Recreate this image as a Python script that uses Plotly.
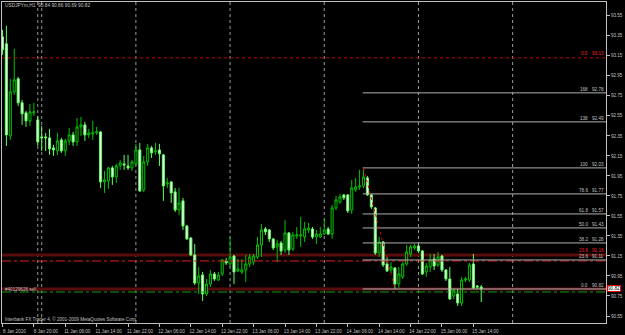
import plotly.graph_objects as go

# ---- data (USDJPYm, H1) ----
opens = [93.34, 93.27, 92.35, 92.79, 92.92, 92.68, 92.58, 92.50, 92.58, 92.51,
         92.34, 92.34, 92.33, 92.23, 92.20, 92.31, 92.20, 92.30, 92.36, 92.29,
         92.44, 92.46, 92.36, 92.37, 92.38, 92.39, 91.89, 91.90, 92.03, 91.94,
         92.05, 92.07, 92.05, 92.03, 92.07, 92.21, 91.81, 92.09, 92.23, 92.19,
         92.21, 92.16, 91.87, 91.89, 91.79, 91.61, 91.70, 91.45, 91.33, 91.16,
         90.88, 90.96, 90.77, 90.87, 90.97, 90.91, 90.97, 91.10, 91.07, 91.15,
         91.00, 90.99, 91.01, 91.07, 91.09, 91.14, 91.26, 91.42, 91.41, 91.32,
         91.24, 91.28, 91.21, 91.38, 91.22, 91.35, 91.35, 91.34, 91.41, 91.42,
         91.34, 91.34, 91.37, 91.42, 91.37, 91.63, 91.69, 91.76, 91.76, 91.61,
         91.81, 91.84, 91.85, 91.93, 91.76, 91.63, 91.18, 91.29, 91.07, 91.01,
         91.03, 90.87, 90.94, 91.07, 91.17, 91.23, 91.25, 91.20, 90.99, 91.04,
         91.12, 91.06, 91.15, 91.01, 90.92, 90.75, 90.77, 90.68, 90.91, 90.91,
         91.07, 90.85, 90.84]
highs = [93.41, 93.45, 92.92, 93.22, 92.94, 92.71, 92.60, 92.67, 92.68, 92.55,
         92.45, 92.38, 92.42, 92.26, 92.38, 92.33, 92.32, 92.43, 92.39, 92.53,
         92.54, 92.49, 92.42, 92.50, 92.44, 92.40, 92.00, 92.04, 92.05, 92.07,
         92.11, 92.16, 92.16, 92.11, 92.27, 92.28, 92.15, 92.27, 92.25, 92.28,
         92.27, 92.17, 91.93, 91.90, 91.83, 91.83, 91.73, 91.46, 91.34, 91.27,
         91.04, 90.99, 90.92, 91.01, 90.99, 90.99, 91.12, 91.13, 91.34, 91.16,
         91.12, 91.12, 91.16, 91.17, 91.17, 91.34, 91.47, 91.44, 91.42, 91.33,
         91.31, 91.30, 91.51, 91.39, 91.39, 91.44, 91.54, 91.49, 91.48, 91.44,
         91.41, 91.44, 91.52, 91.44, 91.66, 91.75, 91.77, 91.77, 91.77, 91.91,
         91.93, 92.01, 92.03, 91.95, 91.77, 91.64, 91.34, 91.30, 91.14, 91.09,
         91.04, 91.04, 91.09, 91.26, 91.26, 91.27, 91.27, 91.21, 91.08, 91.17,
         91.17, 91.19, 91.16, 91.02, 91.04, 90.82, 90.82, 90.94, 90.94, 91.08,
         91.17, 90.86, 90.86]
lows = [93.16, 92.25, 92.31, 92.76, 92.65, 92.46, 92.44, 92.45, 92.55, 92.25,
        92.20, 92.20, 92.16, 92.15, 92.16, 92.18, 92.15, 92.26, 92.25, 92.25,
        92.35, 92.30, 92.33, 92.31, 92.36, 91.83, 91.78, 91.82, 91.86, 91.88,
        92.01, 92.01, 92.01, 92.00, 92.05, 91.79, 91.79, 92.05, 92.13, 92.16,
        92.05, 91.70, 91.83, 91.68, 91.59, 91.56, 91.41, 91.31, 91.15, 90.86,
        90.77, 90.70, 90.75, 90.84, 90.90, 90.90, 90.95, 91.06, 91.04, 90.87,
        90.99, 90.97, 90.89, 91.04, 91.06, 91.12, 91.14, 91.36, 91.29, 91.21,
        91.09, 91.16, 91.18, 91.16, 91.20, 91.32, 91.24, 91.29, 91.38, 91.32,
        91.27, 91.33, 91.36, 91.36, 91.32, 91.61, 91.67, 91.71, 91.58, 91.57,
        91.79, 91.81, 91.83, 91.75, 91.62, 91.16, 91.14, 91.04, 90.99, 90.98,
        90.82, 90.83, 90.92, 91.05, 91.14, 91.21, 91.18, 90.96, 90.94, 90.99,
        91.01, 91.04, 90.99, 90.90, 90.71, 90.72, 90.65, 90.65, 90.89, 90.89,
        90.82, 90.82, 90.69]
closes = [93.21, 92.36, 92.79, 92.91, 92.68, 92.57, 92.50, 92.59, 92.59, 92.29,
          92.33, 92.33, 92.22, 92.21, 92.30, 92.20, 92.30, 92.36, 92.29, 92.44,
          92.46, 92.36, 92.38, 92.38, 92.39, 91.89, 91.91, 92.03, 91.94, 92.05,
          92.08, 92.06, 92.03, 92.09, 92.21, 91.80, 92.09, 92.23, 92.18, 92.20,
          92.17, 91.85, 91.88, 91.78, 91.61, 91.68, 91.45, 91.32, 91.16, 90.88,
          90.95, 90.77, 90.87, 90.97, 90.92, 90.96, 91.11, 91.08, 91.14, 90.99,
          91.02, 91.01, 91.07, 91.14, 91.15, 91.26, 91.41, 91.39, 91.32, 91.23,
          91.27, 91.20, 91.38, 91.21, 91.36, 91.36, 91.36, 91.42, 91.43, 91.34,
          91.37, 91.37, 91.41, 91.37, 91.63, 91.71, 91.74, 91.73, 91.60, 91.83,
          91.84, 91.85, 91.94, 91.76, 91.64, 91.18, 91.29, 91.06, 91.00, 91.04,
          90.87, 90.97, 91.07, 91.19, 91.24, 91.25, 91.20, 90.97, 91.05, 91.11,
          91.05, 91.14, 91.01, 90.92, 90.72, 90.81, 90.68, 90.91, 90.92, 91.06,
          90.83, 90.84, 90.82]
bars = list(range(len(opens)))

xtick_bars = [0, 8, 16, 24, 32, 40, 48, 56, 64, 72, 80, 88, 96, 104, 112, 120]
xtick_labels = ["8 Jan 2010", "8 Jan 20:00", "11 Jan 06:00", "11 Jan 14:00",
                "11 Jan 22:00", "12 Jan 06:00", "12 Jan 14:00", "12 Jan 22:00",
                "13 Jan 06:00", "13 Jan 14:00", "13 Jan 22:00", "14 Jan 06:00",
                "14 Jan 14:00", "14 Jan 22:00", "15 Jan 06:00", "15 Jan 14:00"]
ytick_values = [90.55, 90.75, 90.95, 91.15, 91.35, 91.55, 91.75, 91.95,
                92.15, 92.35, 92.55, 92.75, 92.95, 93.15, 93.35, 93.55]
ytick_labels = ["90.55", "90.75", "90.95", "91.15", "91.35", "91.55", "91.75", "91.95",
                "92.15", "92.35", "92.55", "92.75", "92.95", "93.15", "93.35", "93.55"]

day_separators = [9, 10, 34, 58, 82, 106, 130]

fib_start_bar = 92
fib_end_bar = 100
fib_level_names = ["0.0", "23.6", "38.2", "50.0", "61.8", "78.6", "100", "138", "168"]
fib_level_prices = [90.82, 91.11, 91.28, 91.43, 91.57, 91.77, 92.03, 92.49, 92.78]

red_fib_names = ["0.0", "23.6"]
red_fib_prices = [93.13, 91.16]
dark_red_bands = [91.16, 90.82]
stop_line = 91.10
order_line = 90.79
order_label = "#40129626 sell"
last_price = "90.82"
last_price_value = 90.82
title_text = "USDJPYm,H1  90.84 90.86 90.69 90.82"
copyright_text = "Interbank FX Trader 4, \u00a9 2001-2009 MetaQuotes Software Corp."

# ---- figure ----
FONT = "Liberation Sans"
GRAY = "#c0c0c0"
fig = go.Figure()

fig.add_trace(go.Candlestick(
    x=bars, open=opens, high=highs, low=lows, close=closes,
    increasing=dict(line=dict(color="#00c400", width=1), fillcolor="#000000"),
    decreasing=dict(line=dict(color="#60ff60", width=1), fillcolor="#ffffff"),
    whiskerwidth=0, hoverinfo="skip", showlegend=False,
))

shapes = []
# day separators
for b in day_separators:
    shapes.append(dict(type="line", xref="x", yref="paper", x0=b, x1=b, y0=0, y1=1,
                       line=dict(color="#9a9a9a", width=1, dash="dot"), layer="below"))
# dark red bands
for p in dark_red_bands:
    shapes.append(dict(type="line", xref="paper", yref="y", x0=0, x1=1, y0=p, y1=p,
                       line=dict(color="#5a0c0c", width=3), layer="below"))
# red fib 0.0 dotted
shapes.append(dict(type="line", xref="paper", yref="y", x0=0, x1=1,
                   y0=red_fib_prices[0], y1=red_fib_prices[0],
                   line=dict(color="#c00000", width=1, dash="dot")))
# stop line (red dash-dot)
shapes.append(dict(type="line", xref="paper", yref="y", x0=0, x1=1, y0=stop_line, y1=stop_line,
                   line=dict(color="#e02020", width=1, dash="dashdot")))
# order line (green dash-dot)
shapes.append(dict(type="line", xref="paper", yref="y", x0=0, x1=1, y0=order_line, y1=order_line,
                   line=dict(color="#10a010", width=1, dash="dashdot")))
# fib levels
for p in fib_level_prices:
    shapes.append(dict(type="line", xref="x", yref="y", x0=fib_start_bar - 0.2, x1=200, y0=p, y1=p,
                       line=dict(color="#b0b0b0", width=1)))
# fib diagonal
shapes.append(dict(type="line", xref="x", yref="y", x0=fib_start_bar, x1=fib_end_bar,
                   y0=fib_level_prices[6], y1=fib_level_prices[0],
                   line=dict(color="#d00000", width=1, dash="dot")))

ann = []
for name, p in zip(fib_level_names, fib_level_prices):
    ann.append(dict(x=149.6, y=p, xref="x", yref="y", text=name, showarrow=False,
                    xanchor="right", yanchor="bottom", yshift=-1,
                    font=dict(family=FONT, size=4.6, color=GRAY)))
    ann.append(dict(x=1, y=p, xref="paper", yref="y", text=f"{p:.2f}", showarrow=False,
                    xanchor="right", yanchor="bottom", yshift=-1,
                    font=dict(family=FONT, size=4.6, color=GRAY)))
for name, p in zip(red_fib_names, red_fib_prices):
    ann.append(dict(x=149.6, y=p, xref="x", yref="y", text=name, showarrow=False,
                    xanchor="right", yanchor="bottom", yshift=0,
                    font=dict(family=FONT, size=4.6, color="#ff2020")))
    ann.append(dict(x=1, y=p, xref="paper", yref="y", text=f"{p:.2f}", showarrow=False,
                    xanchor="right", yanchor="bottom", yshift=0,
                    font=dict(family=FONT, size=4.6, color="#ff2020")))
ann.append(dict(x=0.002, y=order_line + 0.02, xref="paper", yref="y", text=order_label,
                showarrow=False, xanchor="left", yanchor="middle",
                font=dict(family=FONT, size=4.6, color=GRAY)))
ann.append(dict(x=0.002, y=0.988, xref="paper", yref="paper", text=title_text,
                showarrow=False, xanchor="left", yanchor="middle",
                font=dict(family=FONT, size=4.8, color=GRAY)))
ann.append(dict(x=0.002, y=0.013, xref="paper", yref="paper", text=copyright_text,
                showarrow=False, xanchor="left", yanchor="middle",
                font=dict(family=FONT, size=4.6, color=GRAY)))
ann.append(dict(x=1.002, y=last_price_value, xref="paper", yref="y", text=last_price,
                showarrow=False, xanchor="left", yanchor="middle",
                bgcolor="#ffffff", bordercolor="#e00000", borderwidth=1, borderpad=0,
                font=dict(family=FONT, size=4.6, color="#000000")))

fig.update_layout(
    width=625, height=335,
    margin=dict(l=1, r=19, t=2, b=8),
    paper_bgcolor="#000000", plot_bgcolor="#000000",
    showlegend=False, boxgap=0.25,
    shapes=shapes, annotations=ann,
    xaxis=dict(range=[-0.12, 153.8], tickvals=xtick_bars, ticktext=xtick_labels,
               ticks="outside", ticklen=3, tickcolor=GRAY, ticklabelshift=12,
               ticklabelstandoff=0,
               tickfont=dict(family=FONT, size=4.6, color=GRAY),
               showgrid=False, zeroline=False, showline=True, linecolor=GRAY,
               linewidth=1, mirror=True, rangeslider=dict(visible=False), fixedrange=True),
    yaxis=dict(range=[90.48, 93.688], side="right", tickvals=ytick_values, ticktext=ytick_labels,
               ticks="outside", ticklen=3, tickcolor=GRAY,
               tickfont=dict(family=FONT, size=4.6, color=GRAY),
               showgrid=False, zeroline=False, showline=True, linecolor=GRAY,
               linewidth=1, mirror=True, fixedrange=True),
)

fig.write_html("out.html", config={"displayModeBar": False})
